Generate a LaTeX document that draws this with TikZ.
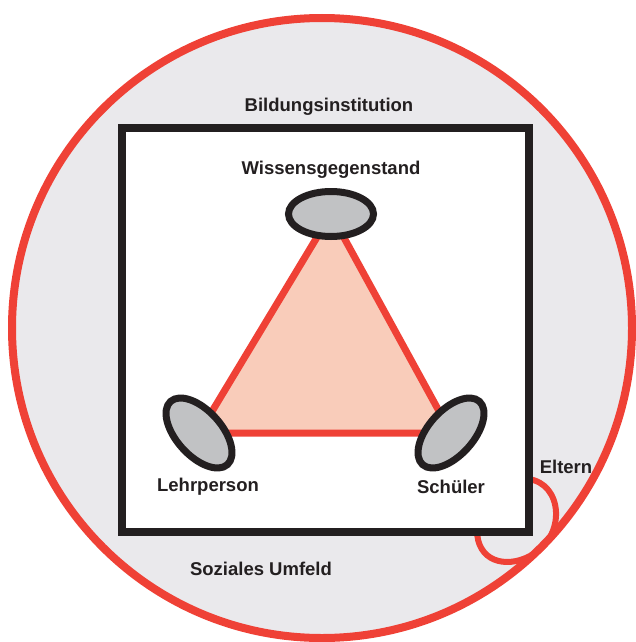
\documentclass[tikz,border=0pt]{standalone}
\usepackage{fontspec}
\setmainfont{Liberation Sans}
\usepackage{tikz}
\usetikzlibrary{positioning,shapes.geometric}
\definecolor{umfeldrot}{RGB}{239,65,54}
\definecolor{umfeldgrau}{RGB}{234,233,236}
\definecolor{dreieckrosa}{RGB}{249,204,186}
\definecolor{polgrau}{RGB}{193,194,196}
\definecolor{rahmenschwarz}{RGB}{35,31,32}
\tikzset{
  pol/.style={ellipse, draw=rahmenschwarz, fill=polgrau, line width=7pt,
    minimum width=85pt, minimum height=45pt, inner sep=0pt},
  beschriftung/.style={font=\fontsize{18.5}{22}\selectfont\bfseries,
    text=rahmenschwarz, inner sep=0pt}
}

\begin{document}
\begin{tikzpicture}[x=1pt,y=-1pt]
\useasboundingbox (0,0) rectangle (636,642);

\draw[umfeldrot, fill=umfeldgrau, line width=8pt] (322,328) circle (310);
\draw[umfeldrot, line width=6pt]
(528,479) .. controls (563,483) and (567,537) .. (530,556)
          .. controls (505,569) and (477,561) .. (477,530);

\node[draw=rahmenschwarz, fill=white, line width=8pt, minimum width=407pt,
  minimum height=404pt, inner sep=0pt] (institution) at (325.5,330) {};

\coordinate (w) at (331,214);
\coordinate (l) at (199,433);
\coordinate (s) at (451,433);
\draw[umfeldrot, fill=dreieckrosa, line width=7pt] (w) -- (l) -- (s) -- cycle;

\node[pol] (wissen) at (w) {};
\node[pol, rotate=-48] (lehrperson) at (l) {};
\node[pol, rotate=48] (schueler) at (s) {};

\node[beschriftung] (bildung) at (329,107) {Bildungsinstitution};
\node[beschriftung, above=9pt of wissen] (wissenlabel) {Wissensgegenstand};
\node[beschriftung] (lehrlabel) at (208,487) {Lehrperson};
\node[beschriftung] (schuelerlabel) at (451,487) {Schüler};
\node[beschriftung] (eltern) at (566,467) {Eltern};
\node[beschriftung] (umfeld) at (261,569) {Soziales Umfeld};
\end{tikzpicture}
\end{document}
